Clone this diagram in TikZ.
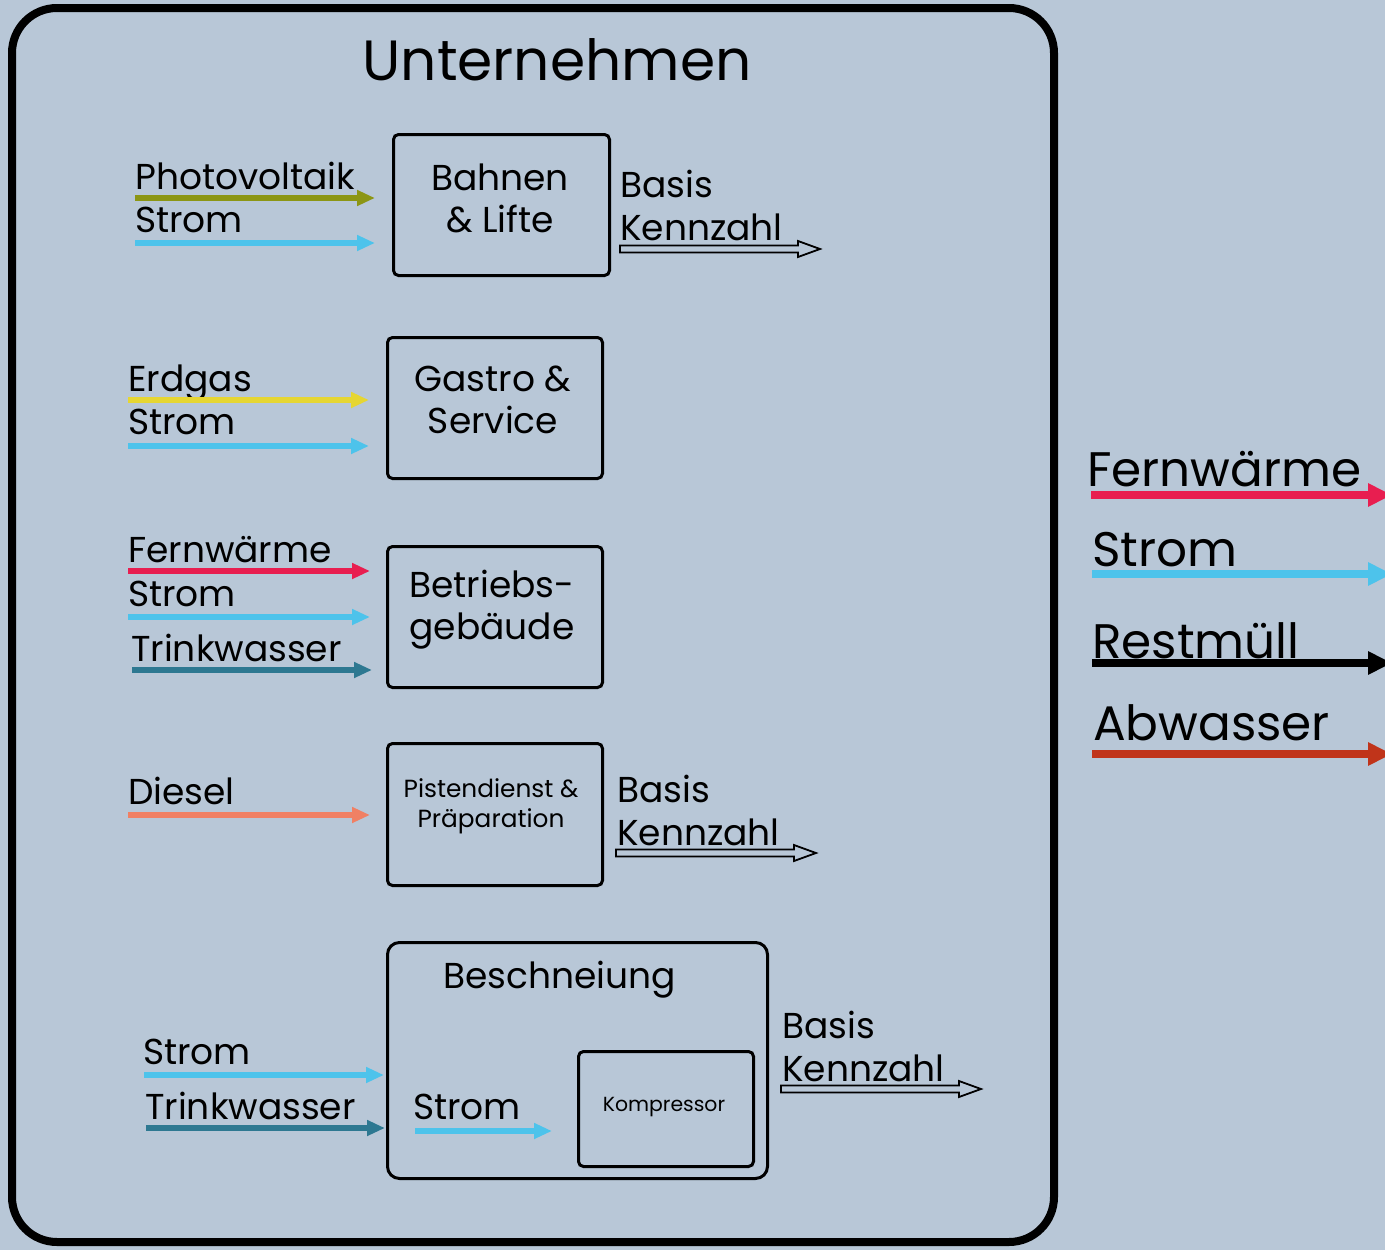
\documentclass[tikz,border=0pt]{standalone}
\usepackage{fontspec}
\setmainfont{Poppins}
\usetikzlibrary{arrows.meta}
\definecolor{bgc}{RGB}{184,199,215}
\definecolor{olive}{RGB}{140,150,20}
\definecolor{stromc}{RGB}{77,195,235}
\definecolor{gasc}{RGB}{230,214,50}
\definecolor{fernc}{RGB}{232,30,80}
\definecolor{wasserc}{RGB}{45,120,145}
\definecolor{dieselc}{RGB}{240,128,100}
\definecolor{abwc}{RGB}{192,52,26}
\tikzset{
  box/.style={draw=black, line width=3pt, rounded corners=5pt, anchor=north west, inner sep=0pt},
  lbl/.style={anchor=base west, inner sep=0pt, font=\fontsize{36}{42}\selectfont},
  boxtxt/.style={align=center, inner sep=0pt, font=\fontsize{36}{42}\selectfont},
  flow/.style={line width=6pt, -{Triangle[length=18pt,width=15pt]}},
  bigflow/.style={line width=8pt, -{Triangle[length=24pt,width=22pt]}},
  biglbl/.style={anchor=base west, inner sep=0pt, font=\fontsize{48.5}{56}\selectfont},
  hollow/.pic={
    \draw[line width=1.8pt, fill=bgc] (0,-3.5) -- (178,-3.5) -- (178,-8) -- (200,0) -- (178,8) -- (178,3.5) -- (0,3.5) -- cycle;
  }
}
\begin{document}
\begin{tikzpicture}[x=1pt,y=-1pt]
\clip (0,0) rectangle (1385,1250);
\fill[bgc] (0,0) rectangle (1385,1250);
% outer frame
\draw[line width=8pt, rounded corners=45pt] (12,8) rectangle (1054,1242);
\node[anchor=base, inner sep=0pt, font=\fontsize{56.7}{66}\selectfont] (title) at (557,80) {Unternehmen};

% boxes
\node[box, minimum width=216pt, minimum height=141pt] (bahn) at (392,133) {};
\node[boxtxt] (bahnt) at (500,198) {Bahnen\\\& Lifte};
\node[box, minimum width=215pt, minimum height=141pt] (gastro) at (386,336) {};
\node[boxtxt] (gastrot) at (493,400) {Gastro \&\\Service};
\node[box, minimum width=215pt, minimum height=141pt] (betr) at (386,545) {};
\node[boxtxt] (betrt) at (492,610) {Betriebs-\\gebäude};
\node[box, minimum width=215pt, minimum height=142pt] (pist) at (386,742) {};
\node[boxtxt, font=\fontsize{24.8}{30}\selectfont] (pistt) at (491,806) {Pistendienst \&\\Präparation};
\node[box, rounded corners=12pt, minimum width=380pt, minimum height=236pt] (besch) at (386,941) {};
\node[anchor=base west, inner sep=0pt, font=\fontsize{36}{42}\selectfont] (bescht) at (443,988) {Beschneiung};
\node[box, minimum width=175pt, minimum height=115pt] (komp) at (577,1050) {};
\node[inner sep=0pt, font=\fontsize{20.4}{24}\selectfont] (kompt) at (664,1107) {Kompressor};

% inputs Bahnen
\node[lbl] (pv) at (135,189) {Photovoltaik};
\coordinate (pva) at (135,198); \coordinate (pvb) at (375,198);
\draw[flow, olive] (pva) -- (pvb);
\node[lbl] (s1) at (135,232) {Strom};
\coordinate (s1a) at (135,243); \coordinate (s1b) at (375,243);
\draw[flow, stromc] (s1a) -- (s1b);
% Gastro
\node[lbl] (eg) at (128,391) {Erdgas};
\coordinate (ega) at (128,400); \coordinate (egb) at (369,400);
\draw[flow, gasc] (ega) -- (egb);
\node[lbl] (s2) at (128,434) {Strom};
\coordinate (s2a) at (128,446); \coordinate (s2b) at (369,446);
\draw[flow, stromc] (s2a) -- (s2b);
% Betrieb
\node[lbl] (fw) at (128,562) {Fernwärme};
\coordinate (fwa) at (128,571); \coordinate (fwb) at (370,571);
\draw[flow, fernc] (fwa) -- (fwb);
\node[lbl] (s3) at (128,606) {Strom};
\coordinate (s3a) at (128,617); \coordinate (s3b) at (370,617);
\draw[flow, stromc] (s3a) -- (s3b);
\node[lbl] (tw) at (131,661) {Trinkwasser};
\coordinate (twa) at (132,670); \coordinate (twb) at (372,670);
\draw[flow, wasserc] (twa) -- (twb);
% Pisten
\node[lbl] (ds) at (128,804) {Diesel};
\coordinate (dsa) at (128,815); \coordinate (dsb) at (370,815);
\draw[flow, dieselc] (dsa) -- (dsb);
% Beschneiung
\node[lbl] (s4) at (143,1064) {Strom};
\coordinate (s4a) at (144,1075); \coordinate (s4b) at (384,1075);
\draw[flow, stromc] (s4a) -- (s4b);
\node[lbl] (tw2) at (145,1119) {Trinkwasser};
\coordinate (tw2a) at (146,1128); \coordinate (tw2b) at (385,1128);
\draw[flow, wasserc] (tw2a) -- (tw2b);
\node[lbl] (s5) at (413,1119) {Strom};
\coordinate (s5a) at (415,1131); \coordinate (s5b) at (552,1131);
\draw[flow, stromc] (s5a) -- (s5b);

% Basis Kennzahl
\node[lbl] (b1) at (620,197) {Basis};
\node[lbl] (k1) at (620,240) {Kennzahl};
\pic at (620,249) {hollow};
\node[lbl] (b2) at (617,802) {Basis};
\node[lbl] (k2) at (617,845) {Kennzahl};
\pic at (616,853) {hollow};
\node[lbl] (b3) at (782,1038) {Basis};
\node[lbl] (k3) at (782,1081) {Kennzahl};
\pic at (781,1089) {hollow};

% legend
\node[biglbl] (lfw) at (1087,486) {Fernwärme};
\coordinate (lfwa) at (1091,495); \coordinate (lfwb) at (1392,495);
\draw[bigflow, fernc] (lfwa) -- (lfwb);
\node[biglbl] (lst) at (1092,566) {Strom};
\coordinate (lsta) at (1092,574); \coordinate (lstb) at (1392,574);
\draw[bigflow, stromc] (lsta) -- (lstb);
\node[biglbl] (lrm) at (1092,658) {Restmüll};
\coordinate (lrma) at (1092,663); \coordinate (lrmb) at (1392,663);
\draw[bigflow, black] (lrma) -- (lrmb);
\node[biglbl] (law) at (1093,740) {Abwasser};
\coordinate (lawa) at (1092,754); \coordinate (lawb) at (1392,754);
\draw[bigflow, abwc] (lawa) -- (lawb);
\end{tikzpicture}
\end{document}
